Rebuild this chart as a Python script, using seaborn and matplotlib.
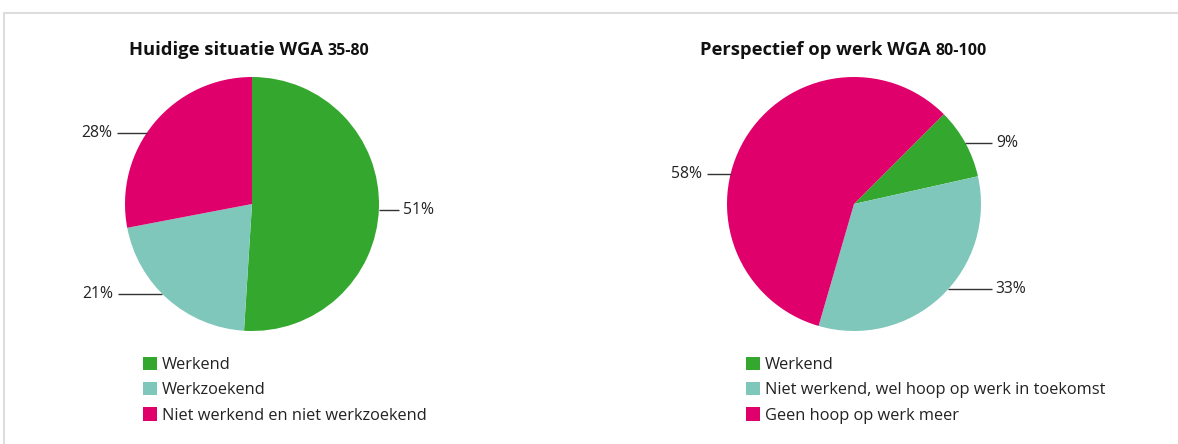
import seaborn as sns
import numpy as np
import matplotlib.pyplot as plt
from matplotlib.lines import Line2D

sns.set_theme(style="white")
plt.rcParams['font.family'] = ['Open Sans', 'DejaVu Sans']

# data
labels_1 = ['Werkend', 'Werkzoekend', 'Niet werkend en niet werkzoekend']
values_1 = [51, 21, 28]
labels_2 = ['Werkend', 'Niet werkend, wel hoop op werk in toekomst', 'Geen hoop op werk meer']
values_2 = [9, 33, 58]
colors = ['#34a82e', '#80c7bb', '#e0006c']

W, H = 1178, 444
fig = plt.figure(figsize=(W / 100, H / 100), dpi=100)

R = 127   # pie radius in px
A = 1.6   # half axes range in data units


def pie_axes(cx, cy):
    half = A * R
    return fig.add_axes([(cx - half) / W, (H - cy - half) / H, 2 * half / W, 2 * half / H])


def leader(ax, y, x0, x1, txt, side):
    ax.plot([x0, x1], [y, y], color='#333333', lw=1, solid_capstyle='butt')
    if side == 'right':
        ax.text(x1 + 0.03, y, txt, ha='left', va='center', fontsize=11.3, color='#222222')
    else:
        ax.text(x0 - 0.04, y, txt, ha='right', va='center', fontsize=11.3, color='#222222')


def draw(cx, cy, values, labels, start, title, sub, title_end, leg_x):
    ax = pie_axes(cx, cy)
    wedges, _ = ax.pie(values, colors=colors, startangle=start, counterclock=False,
                       radius=1, wedgeprops=dict(linewidth=0))
    ax.set_xlim(-A, A)
    ax.set_ylim(-A, A)
    ax.set_aspect('equal')
    ax.axis('off')
    fig.text(title_end / W, 1 - 50 / H, title, ha='right', va='center',
             fontsize=13.2, fontweight='bold', color='#111111')
    fig.text((title_end + 4) / W, 1 - 51 / H, sub, ha='left', va='center',
             fontsize=11.5, fontweight='bold', color='#111111')
    ax.legend(wedges, labels, loc='upper left', frameon=False,
              bbox_to_anchor=(leg_x / W, 1 - 357 / H), bbox_transform=fig.transFigure,
              borderpad=0, borderaxespad=0, fontsize=11.8, handlelength=0.85,
              handleheight=0.85, handletextpad=0.3, labelspacing=0.55,
              labelcolor='#222222')
    return ax


ax1 = draw(252, 204, values_1, labels_1, 90, 'Huidige situatie WGA', '35-80', 323, 143)
leader(ax1, (204 - 210) / R, 1.0, (399 - 252) / R, '51%', 'right')
leader(ax1, (204 - 133) / R, (117 - 252) / R, -np.sqrt(1 - ((204 - 133) / R) ** 2), '28%', 'left')
leader(ax1, (204 - 294) / R, (118 - 252) / R, -np.sqrt(1 - ((204 - 294) / R) ** 2), '21%', 'left')

ax2 = draw(854, 204, values_2, labels_2, 45, 'Perspectief op werk WGA', '80-100', 931, 746)
leader(ax2, (204 - 143) / R, np.sqrt(1 - ((204 - 143) / R) ** 2), (992 - 854) / R, '9%', 'right')
leader(ax2, (204 - 289) / R, np.sqrt(1 - ((204 - 289) / R) ** 2), (992 - 854) / R, '33%', 'right')
leader(ax2, (204 - 174) / R, (707 - 854) / R, -np.sqrt(1 - ((204 - 174) / R) ** 2), '58%', 'left')

# light frame lines top and left
fig.add_artist(Line2D([4 / W, 1], [1 - 13 / H, 1 - 13 / H], color='#dddddd', lw=1.5,
                      transform=fig.transFigure))
fig.add_artist(Line2D([4 / W, 4 / W], [0, 1 - 13 / H], color='#dddddd', lw=1.5,
                      transform=fig.transFigure))

fig.savefig('out.png', dpi=100)
